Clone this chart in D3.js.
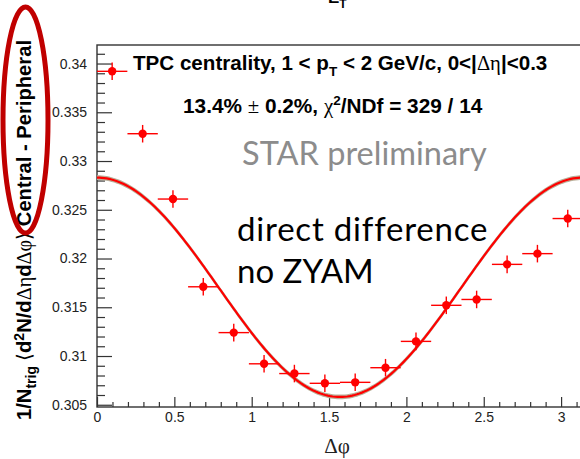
<!DOCTYPE html>
<html><head><meta charset="utf-8">
<script src="https://cdn.jsdelivr.net/npm/d3@7"></script>
<style>body{margin:0;background:#fff}svg{display:block}</style>
</head><body>
<svg id="chart" width="580" height="459"></svg>
<script>
// Δφ bin centres (16 bins over 0..π)
const binCenters = [0.098, 0.295, 0.491, 0.687, 0.884, 1.080, 1.276, 1.473,
                    1.669, 1.865, 2.062, 2.258, 2.454, 2.651, 2.847, 3.043];
// Central − peripheral per-trigger yield
const yields = [0.3392, 0.3328, 0.3261, 0.3171, 0.3124, 0.3092, 0.3082, 0.3072,
                0.3073, 0.3088, 0.3115, 0.3152, 0.3158, 0.3194, 0.3205, 0.3241];
const yieldErrors = [0.0009, 0.0009, 0.0009, 0.0009, 0.0009, 0.0009, 0.0009, 0.0009,
                     0.0009, 0.0009, 0.0009, 0.0009, 0.0009, 0.0009, 0.0009, 0.0009];
const binHalfWidth = 0.0982;
// cos(2Δφ) fit parameters and its error band
const fitPedestal = 0.31705;
const fitAmplitude = 0.01125;
const fitBand = 0.00024;

const xMajorTicks = [0, 0.5, 1, 1.5, 2, 2.5, 3];
const xTickLabels = ["0", "0.5", "1", "1.5", "2", "2.5", "3"];
const yMajorTicks = [0.305, 0.31, 0.315, 0.32, 0.325, 0.33, 0.335, 0.34];
const yTickLabels = ["0.305", "0.31", "0.315", "0.32", "0.325", "0.33", "0.335", "0.34"];

const svg = d3.select("#chart");
const frame = {left: 97, right: 583, top: 45, bottom: 407};

const x = d3.scaleLinear().domain([0, Math.PI]).range([frame.left, frame.right]);
const y = d3.scaleLinear().domain([0.30477, 0.3419]).range([frame.bottom, frame.top]);

const axisColor = "#333";
const labelFont = "'Liberation Sans', Arial, sans-serif";
const symbolFont = "'Liberation Serif', 'Times New Roman', serif";
const slideFont = "Lato, 'Open Sans', sans-serif";

// minor ticks
const yMinor = d3.range(305, 342).map(v => v / 1000).filter(v => !yMajorTicks.some(t => Math.abs(t - v) < 1e-9));
const xMinor = d3.range(0, 32).map(v => v / 10).filter(v => !xMajorTicks.some(t => Math.abs(t - v) < 1e-9));

const gY = svg.append("g").attr("transform", `translate(${frame.left},0)`);
gY.call(d3.axisLeft(y).tickValues(yMajorTicks).tickSize(-15).tickPadding(10)
  .tickFormat((d, i) => yTickLabels[i]));
const gYm = svg.append("g").attr("transform", `translate(${frame.left},0)`);
gYm.call(d3.axisLeft(y).tickValues(yMinor).tickSize(-8).tickFormat(""));

const gX = svg.append("g").attr("transform", `translate(0,${frame.bottom})`);
gX.call(d3.axisBottom(x).tickValues(xMajorTicks).tickSize(-10).tickPadding(5)
  .tickFormat((d, i) => xTickLabels[i]));
const gXm = svg.append("g").attr("transform", `translate(0,${frame.bottom})`);
gXm.call(d3.axisBottom(x).tickValues(xMinor).tickSize(-5).tickFormat(""));

svg.selectAll(".domain").remove();
svg.selectAll(".tick line").attr("stroke", axisColor).attr("stroke-width", 1.2);
svg.selectAll(".tick text").attr("fill", "#222").style("font-family", labelFont).style("font-size", "14px");

// frame
svg.append("rect")
  .attr("x", frame.left).attr("y", frame.top)
  .attr("width", frame.right - frame.left).attr("height", frame.bottom - frame.top)
  .attr("fill", "none").attr("stroke", axisColor).attr("stroke-width", 1.4);

// fit curve with band
const fitPhi = d3.range(0, 201).map(i => i / 200 * Math.PI);
const fitValue = p => fitPedestal + fitAmplitude * Math.cos(2 * p);
svg.append("path")
  .datum(fitPhi)
  .attr("d", d3.area().x(p => x(p)).y0(p => y(fitValue(p) - fitBand)).y1(p => y(fitValue(p) + fitBand)))
  .attr("fill", "#b9ae98");
svg.append("path")
  .datum(fitPhi)
  .attr("d", d3.line().x(p => x(p)).y(p => y(fitValue(p))))
  .attr("fill", "none").attr("stroke", "#ff0000").attr("stroke-width", 2.2);

// data points
const pts = binCenters.map((c, i) => ({c, v: yields[i], e: yieldErrors[i]}));
const gp = svg.append("g").attr("stroke", "#ff0000").attr("stroke-width", 1.4);
gp.selectAll("line.h").data(pts).join("line").attr("class", "h")
  .attr("x1", d => x(d.c - binHalfWidth)).attr("x2", d => x(d.c + binHalfWidth))
  .attr("y1", d => y(d.v)).attr("y2", d => y(d.v));
gp.selectAll("line.v").data(pts).join("line").attr("class", "v")
  .attr("x1", d => x(d.c)).attr("x2", d => x(d.c))
  .attr("y1", d => y(d.v - d.e)).attr("y2", d => y(d.v + d.e));
svg.append("g").selectAll("circle").data(pts).join("circle")
  .attr("cx", d => x(d.c)).attr("cy", d => y(d.v)).attr("r", 4.2).attr("fill", "#ff0000");

// legend texts
const t1 = svg.append("text").attr("x", 133).attr("y", 70)
  .style("font-family", labelFont).style("font-size", "20.6px").style("font-weight", "bold").attr("fill", "#000");
t1.append("tspan").text("TPC centrality, 1 < p");
t1.append("tspan").attr("dy", 6).style("font-size", "13.5px").text("T");
t1.append("tspan").attr("dy", -6).text(" < 2 GeV/c, 0<|");
t1.append("tspan").style("font-family", symbolFont).style("font-weight", "normal").text("Δη");
t1.append("tspan").text("|<0.3");

const t2 = svg.append("text").attr("x", 183).attr("y", 113)
  .style("font-family", labelFont).style("font-size", "20.8px").style("font-weight", "bold").attr("fill", "#000");
t2.append("tspan").text("13.4% ");
t2.append("tspan").style("font-family", symbolFont).style("font-weight", "normal").text("±");
t2.append("tspan").text(" 0.2%, ");
t2.append("tspan").style("font-family", symbolFont).style("font-weight", "normal").text("χ");
t2.append("tspan").attr("dy", -8).style("font-size", "13.5px").text("2");
t2.append("tspan").attr("dy", 8).text("/NDf = 329 / 14");

svg.append("text").attr("x", 242).attr("y", 165)
  .style("font-family", slideFont).style("font-size", "32.5px")
  .attr("fill", "#8c8c8c").text("STAR preliminary");

svg.append("text").attr("x", 237).attr("y", 241)
  .style("font-family", slideFont).style("font-size", "33px").style("letter-spacing", "0.8px")
  .attr("fill", "#000").text("direct difference");
svg.append("text").attr("x", 237).attr("y", 283)
  .style("font-family", slideFont).style("font-size", "33px")
  .attr("fill", "#000").text("no ZYAM");

// heading above the frame, clipped by the page top
const th = svg.append("text").attr("x", 328).attr("y", 3)
  .style("font-family", labelFont).style("font-size", "17px").style("font-weight", "bold");
th.append("tspan").text("E");
th.append("tspan").attr("dy", 5).style("font-size", "12px").text("T");

// x axis title
svg.append("text").attr("x", 337).attr("y", 453).attr("text-anchor", "middle")
  .style("font-family", symbolFont).style("font-size", "21px").attr("fill", "#222").text("Δφ");

// y axis title
const yt = svg.append("text").attr("transform", "translate(31,230) rotate(-90)")
  .attr("text-anchor", "middle")
  .style("font-family", labelFont).style("font-size", "20.2px").style("font-weight", "bold").attr("fill", "#000");
yt.append("tspan").text("1/N");
yt.append("tspan").attr("dy", 5).style("font-size", "14px").text("trig");
yt.append("tspan").attr("dy", -5).style("font-family", symbolFont).style("font-weight", "normal").text(" ⟨");
yt.append("tspan").text("d");
yt.append("tspan").attr("dy", -7).style("font-size", "14px").text("2");
yt.append("tspan").attr("dy", 7).text("N/d");
yt.append("tspan").style("font-family", symbolFont).style("font-weight", "normal").text("Δη");
yt.append("tspan").text("d");
yt.append("tspan").style("font-family", symbolFont).style("font-weight", "normal").text("Δφ⟩");
yt.append("tspan").text(" Central - Peripheral");

// highlight ellipse round the subtraction label
svg.append("ellipse").attr("cx", 25.5).attr("cy", 120).attr("rx", 22.5).attr("ry", 113)
  .attr("fill", "none").attr("stroke", "#c00000").attr("stroke-width", 5);
</script>
</body></html>
